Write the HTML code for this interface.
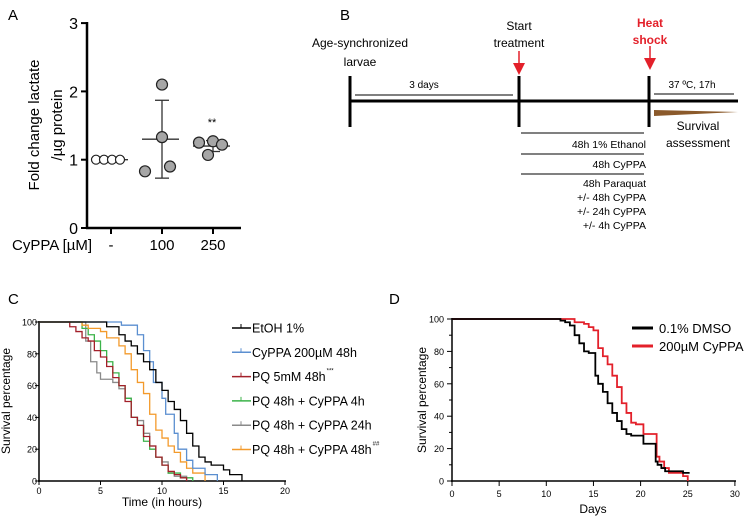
<!DOCTYPE html>
<html><head><meta charset="utf-8">
<style>
html,body{margin:0;padding:0;background:#fff;}
svg{display:block;font-family:"Liberation Sans",Arial,sans-serif;}
</style></head>
<body>
<svg id="fig" width="749" height="517" viewBox="0 0 749 517" xmlns="http://www.w3.org/2000/svg">
<rect width="749" height="517" fill="#fff"/>
<!-- Panel labels -->
<text x="8" y="20" font-size="15">A</text>
<text x="340" y="20" font-size="15">B</text>
<text x="8" y="304" font-size="15">C</text>
<text x="389" y="304" font-size="15">D</text>

<!-- Panel A -->
<g id="panelA">
  <text transform="translate(39,125) rotate(-90)" text-anchor="middle" font-size="15">Fold change lactate</text>
  <text transform="translate(62,125) rotate(-90)" text-anchor="middle" font-size="15">/µg protein</text>
  <text x="12" y="250" font-size="15">CyPPA [µM]</text>
  <g id="aAxes"></g>
  <g id="aMarks"></g>
  <text x="212" y="126" text-anchor="middle" font-size="11">**</text>
</g>

<!-- Panel B schematic -->
<g font-size="12">
  <line x1="349" y1="101" x2="738" y2="101" stroke="#000" stroke-width="3"/>
  <line x1="350" y1="76" x2="350" y2="127" stroke="#000" stroke-width="3"/>
  <line x1="519" y1="76" x2="519" y2="127" stroke="#000" stroke-width="3"/>
  <line x1="649" y1="76" x2="649" y2="127" stroke="#000" stroke-width="3"/>
  <text x="360" y="47" text-anchor="middle">Age-synchronized</text>
  <text x="360" y="66" text-anchor="middle">larvae</text>
  <line x1="355" y1="95" x2="513" y2="95" stroke="#000" stroke-width="1"/>
  <text x="424" y="88" text-anchor="middle" font-size="10">3 days</text>
  <text x="519" y="30" text-anchor="middle">Start</text>
  <text x="519" y="47" text-anchor="middle">treatment</text>
  <line x1="519" y1="51" x2="519" y2="66" stroke="#e3202a" stroke-width="1.5"/>
  <polygon points="513,63 525,63 519,75" fill="#e3202a"/>
  <text x="650" y="27" text-anchor="middle" fill="#e3202a" font-weight="bold">Heat</text>
  <text x="650" y="44" text-anchor="middle" fill="#e3202a" font-weight="bold">shock</text>
  <line x1="650" y1="46" x2="650" y2="61" stroke="#e3202a" stroke-width="1.5"/>
  <polygon points="644,58 656,58 650,70" fill="#e3202a"/>
  <line x1="654" y1="94" x2="734" y2="94" stroke="#000" stroke-width="1"/>
  <text x="692" y="88" text-anchor="middle" font-size="10">37 ºC, 17h</text>
  <polygon points="654,110 738,112 654,116" fill="#8b5a2b"/>
  <text x="698" y="130" text-anchor="middle">Survival</text>
  <text x="698" y="147" text-anchor="middle">assessment</text>
  <line x1="521" y1="133" x2="644" y2="133" stroke="#000" stroke-width="1"/>
  <line x1="521" y1="154" x2="644" y2="154" stroke="#000" stroke-width="1"/>
  <line x1="521" y1="174" x2="644" y2="174" stroke="#000" stroke-width="1"/>
  <g text-anchor="end" font-size="10.5">
    <text x="646" y="148">48h 1% Ethanol</text>
    <text x="646" y="168">48h CyPPA</text>
    <text x="646" y="187">48h Paraquat</text>
    <text x="646" y="201">+/- 48h CyPPA</text>
    <text x="646" y="215">+/- 24h CyPPA</text>
    <text x="646" y="229">+/- 4h CyPPA</text>
  </g>
</g>

<!-- Panel C -->
<g id="panelC">
  <text transform="translate(10,401) rotate(-90)" text-anchor="middle" font-size="12">Survival percentage</text>
  <text x="162" y="506" text-anchor="middle" font-size="12">Time (in hours)</text>
  <g id="cAxes"></g><g id="cMarks"></g><g id="cLegend"></g>
</g>

<!-- Panel D -->
<g id="panelD">
  <text transform="translate(426,400) rotate(-90)" text-anchor="middle" font-size="12">Survival percentage</text>
  <text x="593" y="513" text-anchor="middle" font-size="12">Days</text>
  <g id="dAxes"></g><g id="dMarks"></g><g id="dLegend"></g>
</g>
</svg>
<script>
// ---- Panel A data
const aCategories = ["-", "100", "250"];
const aYTicks = [0, 1, 2, 3];
const aPoints0 = [1.0, 1.0, 1.0, 1.0];
const aPoints100 = [2.1, 1.33, 0.83, 0.9];
const aPoints250 = [1.25, 1.27, 1.22, 1.07];
const aMeans = [1.0, 1.3, 1.2];
const aSD = [0, 0.57, 0.08];

// ---- Panel C data
const cXTicks = [0, 5, 10, 15, 20];
const cYTicks = [0, 20, 40, 60, 80, 100];
const cSeriesNames = ["EtOH 1%", "CyPPA 200µM 48h", "PQ 5mM 48h", "PQ 48h + CyPPA 4h", "PQ 48h + CyPPA 24h", "PQ 48h + CyPPA 48h"];
const cSeriesSup = ["", "", "***", "", "", "##"];
const cColors = ["#000000", "#5b8fd0", "#a3202a", "#3cb34a", "#8a8a8a", "#f39a2b"];
const cEtohT = [0,5.5,6.5,7,7.5,8,8.5,9,9.5,10,10.5,11,11.5,12,12.5,13,13.5,14,15,15.5,16.5];
const cEtohV = [100,97,92,88,85,80,75,70,62,57,50,45,38,30,22,15,12,10,7,4,0];
const cCyppaT = [0,6.7,8,8.5,9,9.3,10,10.3,11,11.3,12,12.5,13.5,14.5];
const cCyppaV = [100,98,92,82,75,62,52,42,30,20,13,8,4,0];
const cPqT = [0,2.5,3,3.5,4,4.5,5,5.5,6,6.5,7,7.5,8,8.5,9,9.5,10,10.5,11,11.5,12];
const cPqV = [100,97,94,90,88,82,78,72,65,60,50,40,35,28,22,15,10,6,4,2,0];
const cPq4T = [0,3.5,4,4.5,5,5.5,6,6.5,7,7.5,8,8.5,9,9.5,10,10.5,11.5,12.5];
const cPq4V = [100,96,92,88,82,75,68,60,52,40,35,25,20,15,10,5,2,0];
const cPq24T = [0,3.8,4.2,4.7,5,6,6.5,7,7.5,8,8.5,9,9.5,10,10.5,11,12];
const cPq24V = [100,88,75,68,64,62,58,52,40,38,30,22,15,12,5,3,0];
const cPq48T = [0,3.5,4,5,5.5,6.5,7,7.5,8,8.5,9,9.5,10,10.5,11,11.5,12,12.5,13.5];
const cPq48V = [100,98,96,94,90,85,80,70,62,55,42,32,27,22,18,12,8,5,0];

// ---- Panel D data
const dXTicks = [0, 5, 10, 15, 20, 25, 30];
const dYTicks = [0, 20, 40, 60, 80, 100];
const dSeriesNames = ["0.1% DMSO", "200µM CyPPA"];
const dColors = ["#000000", "#e3202a"];
const dDmsoT = [0,11.5,12,12.5,13,13.5,14,14.5,15.2,15.5,16,16.5,17,17.5,18,18.5,19,20.3,21.6,21.8,22.2,22.6,24.5,25.2];
const dDmsoV = [100,99,98,96,90,85,80,79,65,60,55,48,42,37,32,29,28,23,12,10,8,6,5,5];
const dCyppaT = [0,12,13,14,14.5,15,15.5,16,16.5,17,17.5,18,18.5,19,19.5,20.3,21.7,22,22.5,23,24.5,25];
const dCyppaV = [100,100,98,97,95,93,82,77,72,65,58,48,42,36,35,29,15,12,8,5,3,0];

const NS = "http://www.w3.org/2000/svg";
function mk(parent, tag, attrs, text) {
  const e = document.createElementNS(NS, tag);
  for (const k in attrs) e.setAttribute(k, attrs[k]);
  if (text !== undefined) e.textContent = text;
  parent.appendChild(e);
  return e;
}

// ===== Panel A =====
(function(){
  const ax = document.getElementById("aAxes"), mg = document.getElementById("aMarks");
  const y = v => 228 - v * 68.3;
  const xc = i => 111 + i * 51;
  let e = mk(ax, "line", {x1:87,y1:22,x2:87,y2:229,stroke:"#000","stroke-width":2.5});
  
  
  e = mk(ax, "line", {x1:86,y1:228,x2:241,y2:228,stroke:"#000","stroke-width":2.5});
  
  
  aYTicks.forEach(t => {
    const l = mk(ax, "line", {x1:81,y1:y(t),x2:87,y2:y(t),stroke:"#000","stroke-width":2});
    
    
    const tx = mk(ax, "text", {x:78,y:y(t)+6,"text-anchor":"end","font-size":16}, String(t));
    
    
  });
  aCategories.forEach((c, i) => {
    const l = mk(ax, "line", {x1:xc(i),y1:228,x2:xc(i),y2:234,stroke:"#000","stroke-width":2});
    
    
    const tx = mk(ax, "text", {x:xc(i),y:250,"text-anchor":"middle","font-size":15}, c);
    
    
  });
  // means and SD
  aMeans.forEach((m, i) => {
    const cx = xc(i);
    const l = mk(mg, "line", {x1:cx-20,y1:y(m),x2:cx+17,y2:y(m),stroke:"#333","stroke-width":1.3});
    
    
    if (aSD[i] > 0) {
      const v = mk(mg, "line", {x1:cx,y1:y(m-aSD[i]),x2:cx,y2:y(m+aSD[i]),stroke:"#333","stroke-width":1.3});
      
      
      [m-aSD[i], m+aSD[i]].forEach(vv => {
        const cp = mk(mg, "line", {x1:cx-7,y1:y(vv),x2:cx+7,y2:y(vv),stroke:"#333","stroke-width":1.3});
        
        
      });
    }
  });
  const groups = [aPoints0, aPoints100, aPoints250];
  const offs = [[-15,-7,1,9],[0,0,-17,8],[-14,0,9,-5]];
  groups.forEach((g, gi) => {
    g.forEach((v, j) => {
      const c = mk(mg, "circle", {cx:xc(gi)+offs[gi][j],cy:y(v),r:gi===0?4.5:5.5,
        fill:gi===0?"#fff":"#a6a6a6",stroke:"#222","stroke-width":1.2});
      
      
    });
  });
})();

function stepPath(T, V, x, y) {
  let d = "M" + x(T[0]) + "," + y(V[0]);
  for (let i = 1; i < T.length; i++) {
    d += " H" + x(T[i]) + " V" + y(V[i]);
  }
  return d;
}

// ===== Panel C =====
(function(){
  const ax = document.getElementById("cAxes"), mg = document.getElementById("cMarks"), lg = document.getElementById("cLegend");
  const x = t => 39 + t * 12.3;
  const y = v => 481 - v * 1.59;
  let e = mk(ax, "line", {x1:39,y1:321,x2:39,y2:482,stroke:"#000","stroke-width":1.5});
  
  
  e = mk(ax, "line", {x1:38,y1:481,x2:286,y2:481,stroke:"#000","stroke-width":1.5});
  
  
  cYTicks.forEach(t => {
    const l = mk(ax, "line", {x1:35,y1:y(t),x2:39,y2:y(t),stroke:"#000","stroke-width":1});
    
    
    const tx = mk(ax, "text", {x:37,y:y(t)+3.5,"text-anchor":"end","font-size":9}, String(t));
    
    
  });
  cXTicks.forEach(t => {
    const l = mk(ax, "line", {x1:x(t),y1:481,x2:x(t),y2:485,stroke:"#000","stroke-width":1});
    
    
    const tx = mk(ax, "text", {x:x(t),y:494,"text-anchor":"middle","font-size":9}, String(t));
    
    
  });
  const series = [[cEtohT,cEtohV],[cCyppaT,cCyppaV],[cPqT,cPqV],[cPq4T,cPq4V],[cPq24T,cPq24V],[cPq48T,cPq48V]];
  const order = [4,3,2,5,1,0];
  order.forEach(i => {
    const p = mk(mg, "path", {d:stepPath(series[i][0], series[i][1], x, y),fill:"none",stroke:cColors[i],"stroke-width":1.3});
    
    
  });
  cSeriesNames.forEach((n, i) => {
    const ly = 328 + i * 24.3;
    const l = mk(lg, "line", {x1:232,y1:ly,x2:251,y2:ly,stroke:cColors[i],"stroke-width":1.5});
    
    
    const tk = mk(lg, "line", {x1:241,y1:ly-4,x2:241,y2:ly,stroke:cColors[i],"stroke-width":1});
    
    
    const tx = mk(lg, "text", {x:252,y:ly+4.5,"font-size":12.5}, n);
    
    
    if (cSeriesSup[i]) {
      const w = tx.getComputedTextLength();
      const s = mk(lg, "text", {x:252+w+1,y:ly-4,"font-size":6}, cSeriesSup[i]);
      
      
    }
  });
})();

// ===== Panel D =====
(function(){
  const ax = document.getElementById("dAxes"), mg = document.getElementById("dMarks"), lg = document.getElementById("dLegend");
  const x = t => 452 + t * 9.43;
  const y = v => 481 - v * 1.62;
  let e = mk(ax, "line", {x1:452,y1:318,x2:452,y2:482,stroke:"#000","stroke-width":1.5});
  
  
  e = mk(ax, "line", {x1:451,y1:481,x2:736,y2:481,stroke:"#000","stroke-width":1.5});
  
  
  for (let v = 0; v <= 100; v += 10) {
    const l = mk(ax, "line", {x1:v%20===0?447:449,y1:y(v),x2:452,y2:y(v),stroke:"#000","stroke-width":1});
    
    
  }
  dYTicks.forEach(t => {
    const tx = mk(ax, "text", {x:444,y:y(t)+3.5,"text-anchor":"end","font-size":9}, String(t));
    
    
  });
  dXTicks.forEach(t => {
    const l = mk(ax, "line", {x1:x(t),y1:481,x2:x(t),y2:486,stroke:"#000","stroke-width":1});
    
    
    const tx = mk(ax, "text", {x:x(t),y:497,"text-anchor":"middle","font-size":9}, String(t));
    
    
  });
  const series = [[dDmsoT,dDmsoV],[dCyppaT,dCyppaV]];
  [1,0].forEach(i => {
    const p = mk(mg, "path", {d:stepPath(series[i][0], series[i][1], x, y),fill:"none",stroke:dColors[i],"stroke-width":1.8});
    
    
  });
  dSeriesNames.forEach((n, i) => {
    const ly = 328 + i * 18;
    const l = mk(lg, "line", {x1:632,y1:ly,x2:653,y2:ly,stroke:dColors[i],"stroke-width":3});
    
    
    const tx = mk(lg, "text", {x:659,y:ly+5,"font-size":13}, n);
    
    
  });
})();
</script>
</body></html>
